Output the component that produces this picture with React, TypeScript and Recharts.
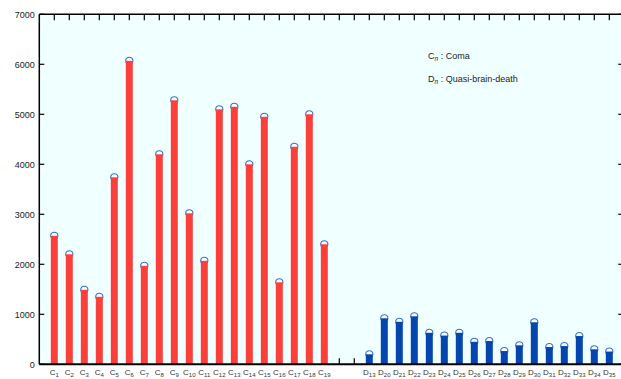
import React from 'react';
import { ComposedChart, Bar, Line, XAxis, YAxis, Cell } from 'recharts';

// Values
const comaIds = [1, 2, 3, 4, 5, 6, 7, 8, 9, 10, 11, 12, 13, 14, 15, 16, 17, 18, 19];
const comaValues = [2570, 2200, 1490, 1350, 3740, 6070, 1970, 4200, 5280, 3020, 2070, 5100, 5150, 4000, 4950, 1640, 4350, 5000, 2400];
const qbdIds = [13, 20, 21, 22, 23, 24, 25, 26, 27, 28, 29, 30, 31, 32, 33, 34, 35];
const qbdValues = [200, 920, 850, 960, 630, 575, 630, 450, 465, 265, 380, 840, 345, 365, 565, 300, 255];
const yTicks = [0, 1000, 2000, 3000, 4000, 5000, 6000, 7000];
const gapSlots = 2;
const legendLines = [
  { letter: 'C', text: ' : Coma' },
  { letter: 'D', text: ' : Quasi-brain-death' },
];

const RED = '#FB403C';
const BLUE = '#0546AE';
const RING = '#2F6FD2';
const FONT = 'Arial, "Liberation Sans", Helvetica, sans-serif';

type Row = { pos: number; value: number; letter: string; sub: number; group: 'C' | 'D' };

const rows: Row[] = [];
comaIds.forEach((id, i) => rows.push({ pos: i + 1, value: comaValues[i], letter: 'C', sub: id, group: 'C' }));
qbdIds.forEach((id, i) =>
  rows.push({ pos: comaIds.length + gapSlots + i + 1, value: qbdValues[i], letter: 'D', sub: id, group: 'D' })
);
const totalSlots = comaIds.length + gapSlots + qbdIds.length;
const allTicks = Array.from({ length: totalSlots }, (_, i) => i + 1);
const labelMap: Record<number, Row> = {};
rows.forEach((r) => (labelMap[r.pos] = r));

const BarWithRing = (props: any) => {
  const { x, y, width, height, fill } = props;
  if (width == null || height == null) return null;
  const cx = x + width / 2;
  return (
    <g>
      <circle cx={cx} cy={y} r={3.6} fill="#ffffff" stroke={RING} strokeWidth={1.1} />
      <rect x={x} y={y} width={width} height={height} fill={fill} />
    </g>
  );
};

const XLabel = (props: any) => {
  const { x, y, payload } = props;
  const r = labelMap[payload.value];
  if (!r) {
    return <line x1={x} x2={x} y1={y} y2={y - 6} stroke="#000" strokeWidth={1.2} />;
  }
  return (
    <text x={x} y={y + 10.5} textAnchor="middle" fontFamily={FONT} fontSize={8} fill="#333">
      <tspan>{r.letter}</tspan>
      <tspan fontSize={6} dy={2}>{r.sub}</tspan>
    </text>
  );
};

const TopTick = (props: any) => {
  const { x, y } = props;
  return <line x1={x} x2={x} y1={y} y2={y + 6} stroke="#000" strokeWidth={1.2} />;
};

const RightTick = (props: any) => {
  const { x, y } = props;
  return <line x1={x} x2={x - 6} y1={y} y2={y} stroke="#000" strokeWidth={1.2} />;
};

const LeftTick = (props: any) => {
  const { x, y, payload } = props;
  return (
    <g>
      <line x1={x} x2={x + 5} y1={y} y2={y} stroke="#000" strokeWidth={1.2} />
      <text x={x - 4.5} y={y + 3.2} textAnchor="end" fontFamily={FONT} fontSize={9} fill="#222">
        {payload.value}
      </text>
    </g>
  );
};

export default function App() {
  return (
    <div style={{ position: 'absolute', left: 0, top: 0, width: 621, height: 379, overflow: 'hidden' }}>
      <div style={{ position: 'relative', width: 640, height: 379, background: '#ffffff' }}>
        <div
          style={{ position: 'absolute', left: 39.3, top: 14.3, width: 585, height: 350, background: '#F0FFFF' }}
        />
        <div style={{ position: 'absolute', left: 0, top: 0 }}>
          <ComposedChart
            width={640}
            height={379}
            data={rows}
            margin={{ top: 0, right: 0, bottom: 0, left: 0 }}
          >
            <XAxis
              xAxisId="top"
              orientation="top"
              type="number"
              dataKey="pos"
              domain={[0, totalSlots + 1]}
              ticks={allTicks}
              interval={0}
              height={14.3}
              tickSize={0}
              tickMargin={0}
              tick={<TopTick />}
              tickLine={false}
              axisLine={{ stroke: '#000', strokeWidth: 1.5 }}
            />
            <XAxis
              xAxisId="main"
              orientation="bottom"
              type="number"
              dataKey="pos"
              domain={[0, totalSlots + 1]}
              ticks={allTicks}
              interval={0}
              height={14.7}
              tickSize={0}
              tickMargin={0}
              tick={<XLabel />}
              tickLine={false}
              axisLine={{ stroke: '#000', strokeWidth: 2 }}
            />
            <YAxis
              yAxisId="left"
              orientation="left"
              type="number"
              domain={[0, 7000]}
              ticks={yTicks}
              interval={0}
              width={39.3}
              tickSize={0}
              tickMargin={0}
              tick={<LeftTick />}
              tickLine={false}
              axisLine={{ stroke: '#000', strokeWidth: 1.5 }}
            />
            <YAxis
              yAxisId="right"
              orientation="right"
              type="number"
              domain={[0, 7000]}
              ticks={yTicks}
              interval={0}
              width={15.7}
              tickSize={0}
              tickMargin={0}
              tick={<RightTick />}
              tickLine={false}
              axisLine={{ stroke: '#000', strokeWidth: 1.5 }}
            />
            <Line
              dataKey="value"
              xAxisId="top"
              yAxisId="right"
              stroke="none"
              dot={false}
              activeDot={false}
              legendType="none"
              isAnimationActive={false}
            />
            <Bar
              dataKey="value"
              xAxisId="main"
              yAxisId="left"
              barSize={7}
              shape={<BarWithRing />}
              isAnimationActive={false}
            >
              {rows.map((r) => (
                <Cell key={r.pos} fill={r.group === 'C' ? RED : BLUE} />
              ))}
            </Bar>
          </ComposedChart>
        </div>
        {legendLines.map((l, i) => (
          <div
            key={l.letter}
            style={{
              position: 'absolute',
              left: 428,
              top: 50 + i * 23.3,
              fontFamily: FONT,
              fontSize: 9,
              color: '#222',
              whiteSpace: 'nowrap',
              lineHeight: '12px',
            }}
          >
            {l.letter}
            <sub style={{ fontSize: 6.5, fontStyle: 'italic', verticalAlign: 'baseline', position: 'relative', top: 2 }}>n</sub>
            {l.text}
          </div>
        ))}
      </div>
    </div>
  );
}
